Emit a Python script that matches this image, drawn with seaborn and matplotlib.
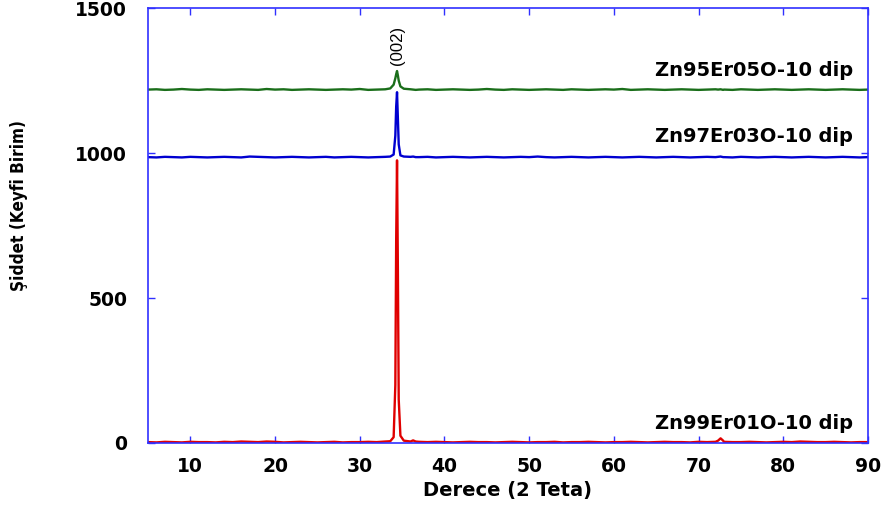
import matplotlib
matplotlib.use("Agg")
import matplotlib.pyplot as plt
import pandas as pd
import seaborn as sns

# 2 teta ekseni (derece)
two_theta = (list(range(5, 34))
             + [33.6, 34.0, 34.2, 34.3, 34.4, 34.5, 34.6, 34.8, 35.2]
             + [36, 36.3, 36.6]
             + list(range(37, 73))
             + [72.3, 72.6, 72.9]
             + list(range(73, 91)))

zn99 = ([3, 2, 4, 3, 2, 4, 3, 3, 2, 4, 3, 5, 4, 3, 5, 4, 2, 3, 4, 3, 2, 3, 4, 2, 3, 3, 4, 3, 5]
        + [6, 20, 200, 700, 975, 600, 150, 25, 8]
        + [5, 9, 5]
        + [4, 3, 4, 3, 2, 3, 4, 3, 3, 2, 3, 4, 3, 2, 3, 3, 4, 2, 3, 3, 4, 3, 2, 3, 3, 4, 3, 2, 3, 4, 3, 3, 2, 4, 3, 4]
        + [8, 16, 8]
        + [4, 3, 3, 4, 3, 2, 3, 4, 3, 5, 4, 3, 3, 4, 3, 2, 3, 3])

zn97 = ([986, 985, 987, 986, 985, 987, 986, 985, 986, 987, 986, 985, 988, 987, 986, 985, 986, 987, 986, 985,
         986, 987, 985, 986, 987, 986, 985, 986, 987]
        + [988, 995, 1060, 1160, 1210, 1120, 1030, 992, 988]
        + [987, 988, 986]
        + [986, 987, 985, 986, 987, 986, 985, 986, 987, 986, 985, 986, 987, 986, 988, 986, 985, 986,
           987, 986, 985, 986, 987, 986, 985, 986, 987, 986, 985, 986, 987, 986, 985, 986, 987, 986]
        + [987, 988, 986]
        + [986, 985, 987, 986, 985, 986, 987, 986, 985, 986, 987, 986, 985, 986, 987, 986, 985, 986])

zn95 = ([1219, 1220, 1218, 1219, 1221, 1219, 1218, 1220, 1219, 1218, 1219, 1220, 1219, 1218, 1221, 1219, 1220,
         1218, 1219, 1220, 1219, 1218, 1219, 1220, 1219, 1221, 1218, 1219, 1220]
        + [1223, 1236, 1258, 1272, 1283, 1268, 1250, 1230, 1222]
        + [1220, 1219, 1218]
        + [1219, 1220, 1218, 1219, 1220, 1219, 1218, 1219, 1221, 1219, 1218, 1220, 1219, 1218, 1219, 1220, 1219, 1218,
           1220, 1219, 1218, 1219, 1220, 1219, 1221, 1218, 1219, 1220, 1219, 1218, 1219, 1220, 1219, 1218, 1219, 1220]
        + [1219, 1220, 1218]
        + [1219, 1218, 1220, 1219, 1218, 1219, 1220, 1219, 1218, 1219, 1220, 1219, 1218, 1219, 1220, 1219, 1218, 1219])

samples = ["Zn99Er01O-10 dip", "Zn97Er03O-10 dip", "Zn95Er05O-10 dip"]
label_y = [68, 1058, 1286]
colors = ["#e00000", "#0000d0", "#1a6e1a"]

df = pd.DataFrame({
    "x": two_theta * 3,
    "y": zn99 + zn97 + zn95,
    "ornek": [s for s in samples for _ in two_theta],
})

sns.set_theme(style="ticks")
plt.rcParams["font.family"] = ["DejaVu Sans"]
plt.rcParams["font.weight"] = "bold"
plt.rcParams["text.color"] = "black"
plt.rcParams["axes.labelcolor"] = "black"

frame = "#3030ff"
fig = plt.figure(figsize=(8.82, 5.08), dpi=100)
ax = fig.add_axes([0.1678, 0.128, 0.8163, 0.856])

sns.lineplot(data=df, x="x", y="y", hue="ornek", palette=dict(zip(samples, colors)),
             linewidth=1.7, legend=False, ax=ax, estimator=None, sort=True)

ax.set_xlim(5, 90)
ax.set_ylim(0, 1500)
ax.set_xticks(range(10, 91, 10))
ax.set_yticks([0, 500, 1000, 1500])
ax.tick_params(direction="in", length=5, width=1, colors=frame, labelcolor="black",
               labelsize=13.5, top=True, right=True)
ax.tick_params(axis="y", pad=15)
ax.tick_params(axis="x", pad=10)
for lab in ax.get_xticklabels() + ax.get_yticklabels():
    lab.set_fontweight("bold")
for sp in ax.spines.values():
    sp.set_color(frame)
    sp.set_linewidth(1.2)

for name, yy in zip(samples, label_y):
    ax.text(88.2, yy, name, ha="right", va="center", fontsize=14, fontweight="bold")
ax.text(34.4, 1372, "(002)", rotation=90, ha="center", va="center", fontsize=12,
        fontweight="normal", family=["Liberation Sans", "DejaVu Sans"])

ax.set_xlabel("Derece (2 Teta)", fontsize=14, fontweight="bold", labelpad=4)
ax.set_ylabel("Şiddet (Keyfi Birim)", fontsize=12.3, fontweight="bold",
              fontstretch="condensed")
ax.yaxis.set_label_coords(-0.166, 0.547)

fig.savefig("out.png", dpi=100)
